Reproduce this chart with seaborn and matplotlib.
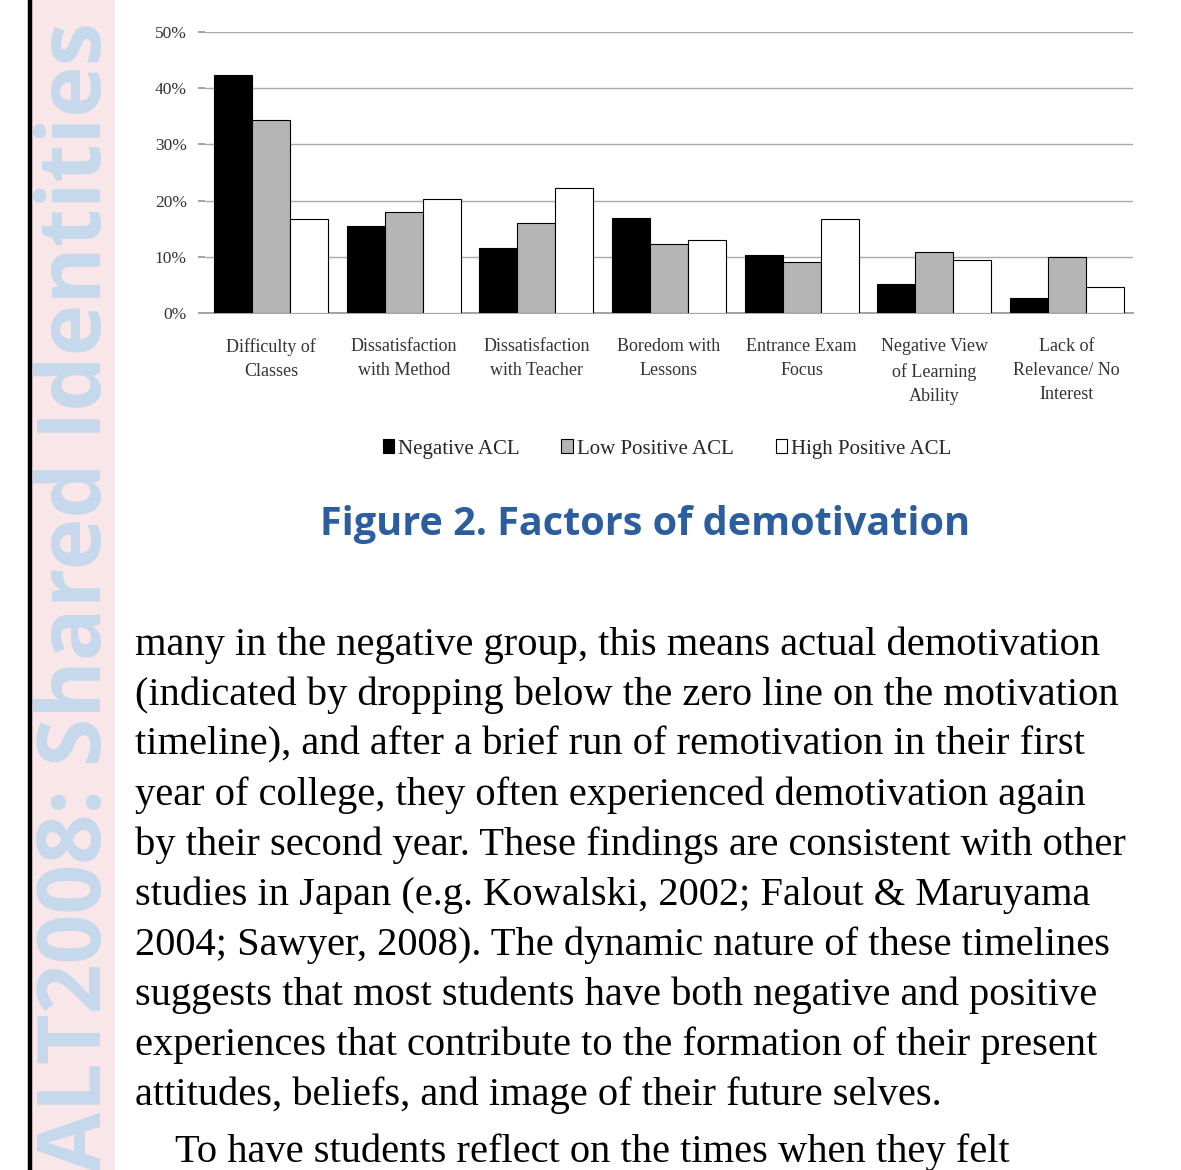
import pandas as pd
import matplotlib.pyplot as plt
import seaborn as sns

# Datos del gráfico (porcentajes)
factors = ['Difficulty of\nClasses', 'Dissatisfaction\nwith Method',
           'Dissatisfaction\nwith Teacher', 'Boredom with\nLessons',
           'Entrance Exam\nFocus', 'Negative View\nof Learning\nAbility',
           'Lack of\nRelevance/ No\nInterest']
groups = ['Negative ACL', 'Low Positive ACL', 'High Positive ACL']
negative_acl = [42.3, 15.5, 11.5, 16.9, 10.3, 5.1, 2.6]
low_positive_acl = [34.4, 18.0, 16.1, 12.2, 9.0, 10.8, 10.0]
high_positive_acl = [16.8, 20.3, 22.2, 13.0, 16.8, 9.4, 4.7]
y_ticks = [0, 10, 20, 30, 40, 50]

title_text = 'Figure 2. Factors of demotivation'
sidebar_text = 'ALT2008: Shared Identities'
paragraph = [
    'many in the negative group, this means actual demotivation',
    '(indicated by dropping below the zero line on the motivation',
    'timeline), and after a brief run of remotivation in their first',
    'year of college, they often experienced demotivation again',
    'by their second year. These findings are consistent with other',
    'studies in Japan (e.g. Kowalski, 2002; Falout & Maruyama',
    '2004; Sawyer, 2008). The dynamic nature of these timelines',
    'suggests that most students have both negative and positive',
    'experiences that contribute to the formation of their present',
    'attitudes, beliefs, and image of their future selves.',
]
next_paragraph = 'To have students reflect on the times when they felt'

df = pd.DataFrame({
    'factor': factors * 3,
    'group': [groups[0]] * 7 + [groups[1]] * 7 + [groups[2]] * 7,
    'value': negative_acl + low_positive_acl + high_positive_acl,
})

sns.set_theme(style='white')
plt.rcParams['font.family'] = ['Liberation Serif', 'DejaVu Serif']

fig = plt.figure(figsize=(11.81, 11.70), dpi=100)
fig.patch.set_facecolor('white')

# Barra lateral rosa con marca de agua
side = fig.add_axes([31 / 1181, 0, 84 / 1181, 1])
side.set_facecolor('#f8e6e8')
side.set_xticks([])
side.set_yticks([])
for s in side.spines.values():
    s.set_visible(False)
side.text(0.56, 0.49, sidebar_text, rotation=90, ha='center', va='center',
          fontsize=63, fontweight='bold', color='#c6d8ec',
          family=['Open Sans', 'DejaVu Sans'], transform=side.transAxes)
fig.add_artist(plt.Line2D([29.5 / 1181, 29.5 / 1181], [0, 1], color='black',
                          linewidth=3.2, transform=fig.transFigure))

# Gráfico de barras
ax = fig.add_axes([205 / 1181, 1 - 313 / 1170, 928 / 1181, 281 / 1170])
sns.barplot(data=df, x='factor', y='value', hue='group', ax=ax,
            palette=['black', '#b5b5b5', 'white'], edgecolor='black',
            linewidth=0.8, width=0.86, saturation=1, errorbar=None,
            legend=True, zorder=3)
ax.set_ylim(0, 50)
ax.set_xlim(-0.5, 6.5)
ax.set_yticks(y_ticks)
ax.set_yticklabels([f'{v}%' for v in y_ticks], fontsize=12.5, color='#333333')
ax.tick_params(axis='y', length=5, color='#999999', pad=8, left=True)
ax.tick_params(axis='x', length=0, pad=18)
for lab in ax.get_xticklabels():
    lab.set_fontsize(13)
    lab.set_linespacing(1.55)
    lab.set_color('#333333')
ax.set_xlabel('')
ax.set_ylabel('')
ax.yaxis.grid(True, color='#aaaaaa', linewidth=1.0, zorder=0)
ax.set_axisbelow(True)
for s in ['left', 'right', 'top']:
    ax.spines[s].set_visible(False)
ax.spines['bottom'].set_color('#999999')

handles, labels = ax.get_legend_handles_labels()
ax.get_legend().remove()
fig.legend(handles, labels, loc='center', bbox_to_anchor=(667 / 1181, 1 - 449 / 1170),
           ncol=3, frameon=False, fontsize=15, handlelength=0.55, handleheight=0.65,
           handletextpad=0.2, columnspacing=2.0)

# Título de la figura
fig.text(645 / 1181, 1 - 524 / 1170, title_text, ha='center', va='center',
         fontsize=28.5, fontweight='bold', color='#2b5d9f',
         family=['Open Sans', 'DejaVu Sans'])

# Texto del párrafo
for i, line in enumerate(paragraph):
    fig.text(135 / 1181, 1 - (645 + 50 * i) / 1170, line, ha='left', va='center',
             fontsize=29.2, color='black')
fig.text(175 / 1181, 1 - 1152 / 1170, next_paragraph, ha='left', va='center',
         fontsize=29.2, color='black')

fig.savefig('out.png', dpi=100)
